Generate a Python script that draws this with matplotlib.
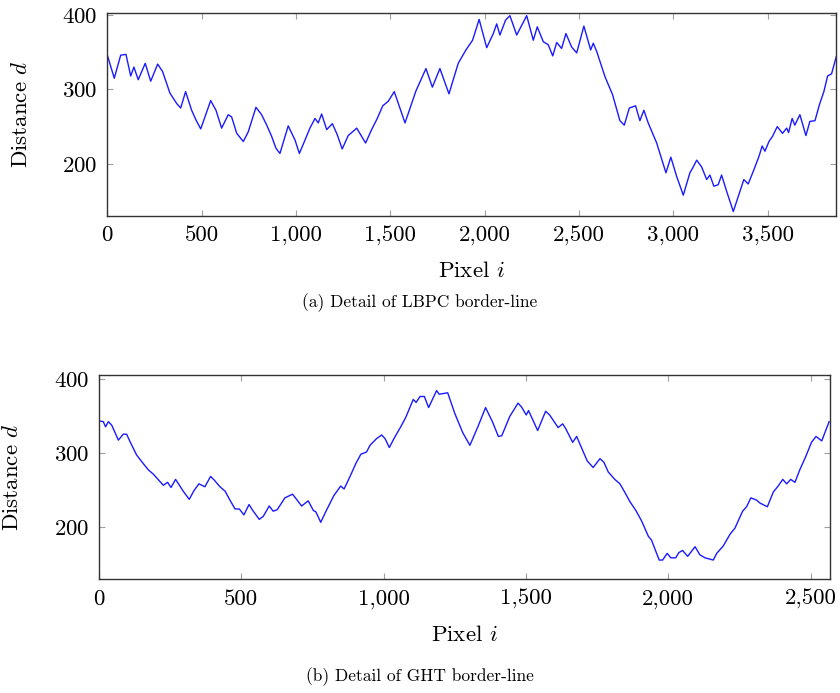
import matplotlib
matplotlib.use('Agg')
import matplotlib.pyplot as plt
from matplotlib.ticker import FuncFormatter

plt.rcParams['font.family'] = ['cmr10', 'DejaVu Serif']
plt.rcParams['mathtext.fontset'] = 'cm'
plt.rcParams['axes.formatter.use_mathtext'] = True

# (a) LBPC border-line
lbpc_x = [0, 37, 71, 99, 124, 141, 164, 201, 230, 267, 293, 332, 368, 389, 415, 447,
          470, 495, 512, 548, 576, 606, 641, 659, 686, 721, 747, 788, 818, 845, 871,
          894, 915, 959, 995, 1018, 1043, 1074, 1101, 1118, 1136, 1163, 1193, 1219,
          1245, 1277, 1322, 1369, 1401, 1431, 1460, 1489, 1521, 1578, 1636, 1689,
          1723, 1763, 1811, 1860, 1901, 1936, 1971, 2011, 2046, 2064, 2081, 2111,
          2134, 2170, 2223, 2258, 2279, 2311, 2337, 2361, 2382, 2408, 2431, 2461,
          2488, 2526, 2562, 2576, 2594, 2638, 2678, 2717, 2740, 2767, 2800, 2823,
          2844, 2867, 2912, 2961, 2987, 3018, 3053, 3088, 3106, 3124, 3150, 3177,
          3194, 3215, 3238, 3256, 3283, 3318, 3344, 3374, 3397, 3424, 3454, 3471,
          3486, 3507, 3526, 3551, 3579, 3601, 3611, 3630, 3644, 3671, 3703, 3724,
          3751, 3774, 3798, 3818, 3839, 3864]
lbpc_d = [346, 315, 346, 347, 318, 330, 313, 335, 311, 334, 324, 295, 281, 275, 297, 272,
          259, 247, 259, 285, 272, 248, 266, 263, 241, 230, 243, 276, 266, 252, 237,
          221, 214, 251, 232, 214, 229, 248, 261, 255, 267, 246, 254, 239,
          220, 238, 248, 228, 246, 261, 278, 284, 297, 255, 298, 328,
          303, 328, 294, 335, 353, 366, 394, 356, 375, 388, 373, 393,
          399, 373, 399, 366, 384, 364, 360, 345, 363, 355, 375, 357,
          349, 385, 353, 362, 351, 317, 293, 258, 252, 275, 278, 258,
          272, 255, 228, 188, 209, 183, 158, 188, 196, 205, 196, 179,
          185, 170, 172, 185, 163, 136, 156, 179, 173, 190, 210, 224,
          217, 230, 237, 250, 241, 248, 242, 261, 252, 266, 238, 257,
          258, 279, 297, 318, 321, 344]

# (b) GHT border-line
ght_x = [0, 15, 23, 33, 45, 68, 85, 97, 109, 132, 150, 173, 191, 226, 241, 253, 269,
         296, 317, 334, 351, 372, 392, 405, 425, 443, 460, 478, 493, 509, 527, 542,
         563, 577, 598, 612, 626, 653, 680, 712, 735, 753, 762, 779, 800, 825, 849,
         861, 882, 903, 920, 940, 952, 975, 993, 1005, 1020, 1036, 1060, 1078, 1104,
         1114, 1128, 1143, 1158, 1186, 1195, 1225, 1250, 1278, 1303, 1332, 1358,
         1382, 1403, 1415, 1443, 1472, 1484, 1501, 1509, 1541, 1569, 1583, 1613,
         1629, 1639, 1664, 1678, 1696, 1715, 1736, 1760, 1774, 1789, 1812, 1830,
         1848, 1865, 1886, 1906, 1930, 1941, 1956, 1968, 1980, 1996, 2009, 2026,
         2037, 2050, 2068, 2094, 2111, 2129, 2158, 2170, 2193, 2217, 2234, 2261,
         2275, 2290, 2310, 2322, 2348, 2369, 2386, 2402, 2416, 2430, 2445, 2462,
         2483, 2503, 2519, 2539, 2565]
ght_d = [344, 343, 336, 343, 338, 318, 326, 326, 316, 298, 289, 278, 272, 257, 261, 254, 265,
         249, 238, 250, 259, 255, 269, 264, 255, 249, 237, 225, 225, 217, 231, 222,
         211, 215, 229, 222, 224, 240, 245, 229, 236, 223, 221, 207, 224, 243, 256,
         252, 269, 287, 299, 302, 311, 320, 325, 320, 308, 320, 336, 349, 373,
         369, 377, 377, 362, 385, 380, 382, 354, 328, 311, 337, 362,
         343, 323, 324, 350, 368, 363, 352, 358, 331, 357, 352, 335,
         340, 334, 315, 323, 307, 290, 281, 293, 288, 275, 265, 259,
         247, 235, 223, 209, 188, 183, 168, 156, 156, 165, 159, 159,
         166, 169, 161, 174, 163, 159, 156, 165, 175, 191, 199, 222,
         228, 240, 237, 233, 228, 248, 256, 265, 259, 265, 261, 278,
         296, 315, 323, 317, 343]

W, H = 840, 693
fig = plt.figure(figsize=(W / 100, H / 100), dpi=100)


def px_axes(l, t, r, b):
    return fig.add_axes([l / W, 1 - b / H, (r - l) / W, (b - t) / H])


def style(ax, xmax, ylim, xticks):
    ax.set_xlim(0, xmax)
    ax.set_ylim(*ylim)
    ax.set_xticks(xticks)
    ax.set_yticks([200, 300, 400])
    ax.xaxis.set_major_formatter(FuncFormatter(lambda v, p: '{:,.0f}'.format(v)))
    ax.tick_params(direction='in', length=4, width=0.8, color='#a0a0a0',
                   top=True, right=True, labelsize=16.5, pad=7)
    for s in ax.spines.values():
        s.set_linewidth(1.0)
        s.set_color('#333333')


# top panel
ax1 = px_axes(107.3, 12.7, 836.3, 216)
ax1.plot(lbpc_x, lbpc_d, color='#1a1aff', lw=1.0)
style(ax1, 3864, (130, 403), [0, 500, 1000, 1500, 2000, 2500, 3000, 3500])
fig.text(21 / W, 1 - 114 / H, r'Distance $d$', rotation=90, ha='center', va='center',
         fontsize=16.5)
fig.text(471.8 / W, 1 - 276.7 / H, r'Pixel $i$', ha='center', va='baseline', fontsize=16.5)
fig.text(420 / W, 1 - 303 / H, '(a) Detail of LBPC border-line', ha='center', va='center',
         fontsize=12.5)

# bottom panel
ax2 = px_axes(99, 375, 829.7, 579.3)
ax2.plot(ght_x, ght_d, color='#1a1aff', lw=1.0)
style(ax2, 2567, (130, 406), [0, 500, 1000, 1500, 2000, 2500])
fig.text(12.5 / W, 1 - 477 / H, r'Distance $d$', rotation=90, ha='center', va='center',
         fontsize=16.5)
fig.text(464.3 / W, 1 - 641 / H, r'Pixel $i$', ha='center', va='baseline', fontsize=16.5)
fig.text(420 / W, 1 - 677 / H, '(b) Detail of GHT border-line', ha='center', va='center',
         fontsize=12.5)

plt.savefig('out.png', dpi=100)
plt.close()
